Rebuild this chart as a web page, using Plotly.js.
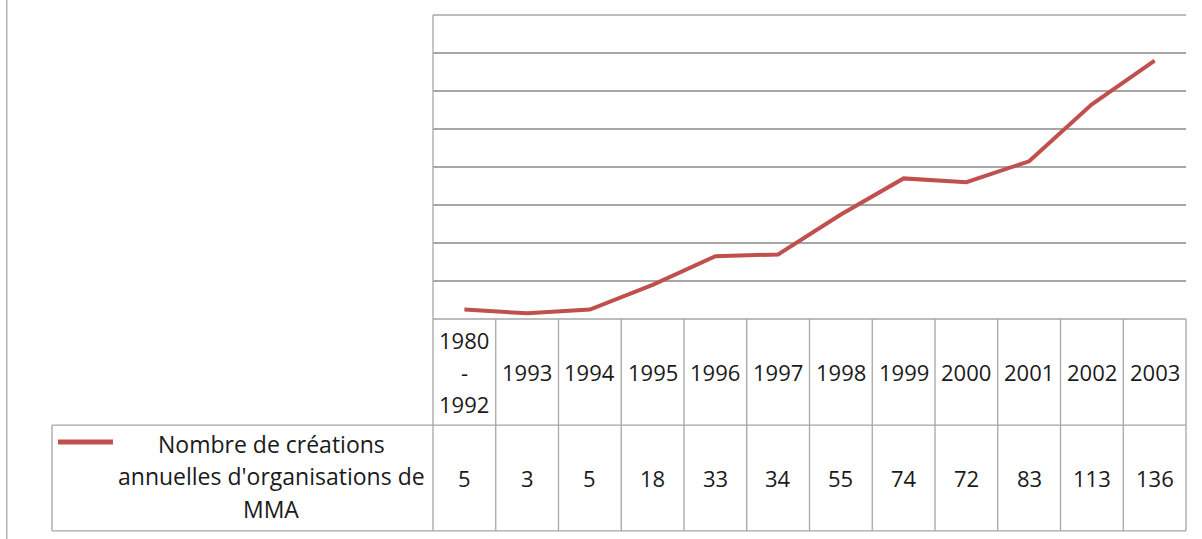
<!DOCTYPE html>
<html>
<head>
<meta charset="utf-8">
<script src="https://cdn.plot.ly/plotly-3.0.1.min.js"></script>
<style>html,body{margin:0;padding:0;background:#fff;}#chart{width:1202px;height:539px;}</style>
</head>
<body>
<div id="chart"></div>
<script>
// ---- data ----
var categories = ['1980-1992', '1993', '1994', '1995', '1996', '1997', '1998', '1999', '2000', '2001', '2002', '2003'];
var tickLabels = [['1980', '-', '1992'], ['1993'], ['1994'], ['1995'], ['1996'], ['1997'], ['1998'], ['1999'], ['2000'], ['2001'], ['2002'], ['2003']];
var values = [5, 3, 5, 18, 33, 34, 55, 74, 72, 83, 113, 136];
var seriesNameLines = ["Nombre de créations", "annuelles d'organisations de", "MMA"];

// ---- styles ----
var lineColor = '#C0504D';
var gridColor = '#A6A6A6';
var textColor = '#1A1A1A';
var fontFamily = '"Open Sans", "Liberation Sans", Arial, sans-serif';

var rowHeaderY = -0.174;   // header row centre (paper)
var rowSplitY = -0.349;    // separation between header & value rows
var rowValueY = -0.523;    // value row centre
var tableBottomY = -0.697; // table bottom
var legendLeftX = -0.506;
var lineStepPaper = 0.106; // ~32px between text lines

var trace = {
  x: categories,
  y: values,
  type: 'scatter',
  mode: 'lines',
  line: {color: lineColor, width: 4},
  name: seriesNameLines.join(' '),
  showlegend: false,
  hoverinfo: 'x+y'
};

var shapes = [];
var lineStyle = {color: gridColor, width: 1.3};
// top gridline (axis max)
shapes.push({type: 'line', xref: 'paper', yref: 'paper', x0: 0, x1: 1, y0: 1, y1: 1, line: lineStyle});
// table outer borders
shapes.push({type: 'line', xref: 'paper', yref: 'paper', x0: 0, x1: 0, y0: 1, y1: tableBottomY, line: lineStyle});
shapes.push({type: 'line', xref: 'paper', yref: 'paper', x0: 1, x1: 1, y0: 0, y1: tableBottomY, line: lineStyle});
shapes.push({type: 'line', xref: 'paper', yref: 'paper', x0: 0, x1: 1, y0: 0, y1: 0, line: lineStyle});
shapes.push({type: 'line', xref: 'paper', yref: 'paper', x0: legendLeftX, x1: 1, y0: rowSplitY, y1: rowSplitY, line: lineStyle});
shapes.push({type: 'line', xref: 'paper', yref: 'paper', x0: legendLeftX, x1: 1, y0: tableBottomY, y1: tableBottomY, line: lineStyle});
shapes.push({type: 'line', xref: 'paper', yref: 'paper', x0: legendLeftX, x1: legendLeftX, y0: rowSplitY, y1: tableBottomY, line: lineStyle});
// chart area left border
shapes.push({type: 'line', xref: 'paper', yref: 'paper', x0: -0.566, x1: -0.566, y0: 1.06, y1: -0.73, line: lineStyle});
// column separators between categories
for (var i = 0; i < categories.length - 1; i++) {
  shapes.push({type: 'line', xref: 'x', yref: 'paper', x0: i + 0.5, x1: i + 0.5, y0: 0, y1: tableBottomY, line: lineStyle});
}
// legend key line
shapes.push({type: 'line', xref: 'paper', yref: 'paper', x0: -0.498, x1: -0.425, y0: -0.405, y1: -0.405,
  line: {color: lineColor, width: 5}});

var annotations = [];
function addLines(lines, xref, x, yCenter, size) {
  var n = lines.length;
  for (var k = 0; k < n; k++) {
    annotations.push({xref: xref, yref: 'paper', x: x, y: yCenter + ((n - 1) / 2 - k) * lineStepPaper,
      text: lines[k], showarrow: false, xanchor: 'center', yanchor: 'middle',
      font: {size: size, color: textColor, family: fontFamily}});
  }
}
for (var j = 0; j < categories.length; j++) {
  addLines(tickLabels[j], 'x', j, rowHeaderY, 22);
  addLines([String(values[j])], 'x', j, rowValueY, 22);
}
addLines(seriesNameLines, 'paper', -0.215, rowValueY + 0.005, 23);

var layout = {
  width: 1202,
  height: 539,
  margin: {l: 433, r: 16, t: 15, b: 220, pad: 0},
  paper_bgcolor: '#ffffff',
  plot_bgcolor: '#ffffff',
  showlegend: false,
  xaxis: {
    type: 'category',
    range: [-0.5, categories.length - 0.5],
    showticklabels: false,
    showgrid: false,
    zeroline: false,
    showline: false,
    ticks: ''
  },
  yaxis: {
    range: [0, 160],
    dtick: 20,
    showticklabels: false,
    showgrid: true,
    gridcolor: gridColor,
    gridwidth: 1.3,
    zeroline: false,
    showline: false,
    ticks: ''
  },
  shapes: shapes,
  annotations: annotations,
  font: {family: fontFamily, color: textColor}
};

Plotly.newPlot('chart', [trace], layout, {displayModeBar: false, staticPlot: true});
</script>
</body>
</html>
